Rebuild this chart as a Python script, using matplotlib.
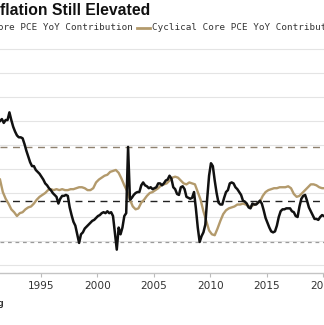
import numpy as np
import matplotlib
matplotlib.use("Agg")
from matplotlib import pyplot as plt

# acyclical core PCE contribution, bimonthly from mid-1991
acyclical_start = 1991.40
acyclical = [
    1.50, 1.52, 1.48, 1.51, 1.51, 1.59, 1.51, 1.44, 1.39, 1.35,
    1.33, 1.33, 1.32, 1.26, 1.19, 1.13, 1.07, 1.03, 1.03, 0.99,
    0.97, 0.95, 0.92, 0.89, 0.85, 0.83, 0.80, 0.78, 0.75, 0.73,
    0.71, 0.64, 0.69, 0.72, 0.72, 0.73, 0.72, 0.60, 0.52, 0.45,
    0.41, 0.32, 0.23, 0.32, 0.34, 0.38, 0.40, 0.42, 0.44, 0.46,
    0.47, 0.49, 0.51, 0.52, 0.54, 0.55, 0.54, 0.56, 0.54, 0.55,
    0.51, 0.34, 0.16, 0.39, 0.32, 0.39, 0.51, 0.54, 1.23, 0.68,
    0.70, 0.73, 0.75, 0.76, 0.76, 0.83, 0.86, 0.83, 0.82, 0.80,
    0.81, 0.79, 0.80, 0.81, 0.85, 0.85, 0.83, 0.85, 0.88, 0.89,
    0.93, 0.90, 0.81, 0.79, 0.74, 0.73, 0.81, 0.82, 0.79, 0.71,
    0.70, 0.69, 0.70, 0.76, 0.59, 0.39, 0.24, 0.30, 0.34, 0.42,
    0.69, 0.93, 1.06, 1.03, 0.88, 0.75, 0.65, 0.63, 0.63, 0.70,
    0.76, 0.78, 0.85, 0.86, 0.85, 0.81, 0.79, 0.76, 0.73, 0.67,
    0.66, 0.64, 0.60, 0.59, 0.64, 0.63, 0.63, 0.65, 0.67, 0.64,
    0.57, 0.49, 0.44, 0.39, 0.35, 0.34, 0.35, 0.41, 0.50, 0.56,
    0.58, 0.58, 0.59, 0.59, 0.59, 0.56, 0.55, 0.51, 0.50, 0.61,
    0.69, 0.72, 0.73, 0.67, 0.60, 0.56, 0.52, 0.48, 0.48, 0.47,
    0.50, 0.52, 0.51,
]

# cyclical core PCE contribution, quarterly from mid-1991
cyclical_start = 1991.40
cyclical = [
    0.89, 0.76, 0.69, 0.64, 0.58, 0.55, 0.51, 0.54, 0.55, 0.58,
    0.60, 0.61, 0.64, 0.68, 0.71, 0.73, 0.75, 0.78, 0.79, 0.78,
    0.79, 0.78, 0.79, 0.78, 0.78, 0.79, 0.79, 0.80, 0.81, 0.81,
    0.80, 0.78, 0.78, 0.80, 0.86, 0.89, 0.91, 0.93, 0.94, 0.97,
    0.98, 0.99, 0.96, 0.90, 0.83, 0.77, 0.68, 0.61, 0.58, 0.59,
    0.65, 0.68, 0.72, 0.75, 0.76, 0.78, 0.80, 0.83, 0.84, 0.85,
    0.88, 0.91, 0.92, 0.91, 0.88, 0.85, 0.84, 0.86, 0.85, 0.84,
    0.76, 0.68, 0.56, 0.46, 0.36, 0.32, 0.31, 0.38, 0.46, 0.53,
    0.57, 0.59, 0.60, 0.61, 0.63, 0.63, 0.64, 0.63, 0.61, 0.61,
    0.63, 0.64, 0.66, 0.72, 0.76, 0.78, 0.79, 0.80, 0.80, 0.81,
    0.81, 0.81, 0.82, 0.80, 0.74, 0.71, 0.72, 0.75, 0.78, 0.81,
    0.84, 0.84, 0.83, 0.81, 0.80, 0.80,
]

# horizontal reference levels
cyclical_high = 1.23
acyclical_avg = 0.67
cyclical_low = 0.24

year_ticks = [1995, 2000, 2005, 2010, 2015, 2020]
grid_levels = np.arange(0, 2.26, 0.25)

black = "#111111"
tan = "#b39a6c"

acyc_x = acyclical_start + np.arange(len(acyclical)) / 6
cyc_x = cyclical_start + np.arange(len(cyclical)) / 4

fig = plt.figure(figsize=(3.24, 3.25), dpi=100)
ax = fig.add_axes([0.0, 0.16, 1.0, 0.7108])

for g in grid_levels:
    ax.axhline(g, color="#e4e4e4", lw=0.8, zorder=0)

ax.axhline(cyclical_high, color="#8f8270", lw=1.0, ls=(0, (5, 4)), zorder=1)
ax.axhline(acyclical_avg, color="#222222", lw=1.0, ls=(0, (5, 4)), zorder=1)
ax.axhline(cyclical_low, color="#9a9a9a", lw=0.9, ls=(0, (3, 3)), zorder=1)

ax.plot(cyc_x, cyclical, color=tan, lw=1.7, zorder=2)
ax.plot(acyc_x, acyclical, color=black, lw=1.8, zorder=3)

ax.set_xlim(1991.40, 2020.07)
ax.set_ylim(-0.0833, 2.323)
ax.set_xticks(year_ticks)
ax.set_xticklabels([str(y) for y in year_ticks], fontsize=7.6, color="#333333",
                   family="DejaVu Sans")
ax.tick_params(axis="x", direction="out", length=3, width=0.8, color="#bbbbbb", pad=3)
ax.set_yticks([])
for side in ["left", "right", "top"]:
    ax.spines[side].set_visible(False)
ax.spines["bottom"].set_color("#c4c4c4")
ax.spines["bottom"].set_linewidth(1.0)

fig.text(150 / 324, 1 - 10 / 325, "Cyclical Inflation Still Elevated", ha="right", va="center",
         fontsize=11.3, fontweight="bold", family="Liberation Sans", color="#111111")

fig.text(133 / 324, 1 - 28 / 325, "Acyclical Core PCE YoY Contribution", ha="right", va="center",
         fontsize=6.7, family="DejaVu Sans Mono", color="#333333")
fig.add_artist(plt.Line2D([137 / 324, 150 / 324], [1 - 28 / 325, 1 - 28 / 325],
                          color=tan, lw=2.0, transform=fig.transFigure))
fig.text(152 / 324, 1 - 28 / 325, "Cyclical Core PCE YoY Contribution", ha="left", va="center",
         fontsize=6.7, family="DejaVu Sans Mono", color="#333333")

fig.text(4 / 324, 1 - 303 / 325, "Source: Bloomberg", ha="right", va="center",
         fontsize=6.5, fontweight="bold", family="Liberation Sans", color="#222222")

fig.savefig("out.png", dpi=100)
